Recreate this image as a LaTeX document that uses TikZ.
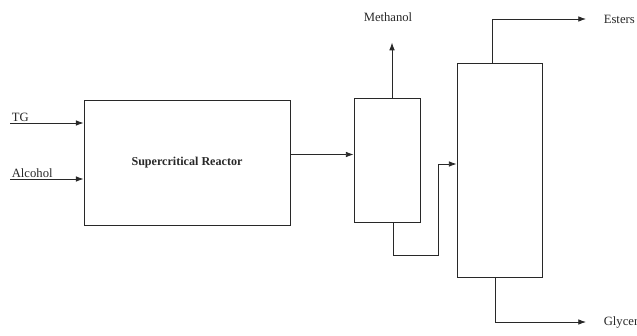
\documentclass[tikz,border=0pt]{standalone}
\usepackage{fontspec}
\setmainfont{Liberation Serif}
\usetikzlibrary{arrows.meta,calc,positioning}
\definecolor{ink}{RGB}{40,40,40}
\tikzset{
  every picture/.style={ink, line width=0.6pt, line join=miter,
    >={Latex[length=5.5pt,width=4pt]}},
  every node/.style={font=\fontsize{9}{10}\selectfont},
  % Apparate
  unit/.style={draw, rectangle, inner sep=0pt},
  % Stroeme
  flow/.style={->},
  lbl/.style={inner sep=1pt},
}

\begin{document}
\begin{tikzpicture}[x=0.025cm, y=-0.025cm]
  \useasboundingbox (0,0) rectangle (637,335);
  % Apparate
  \node[unit, minimum width=5.15cm, minimum height=3.125cm] (reactor) at (187,162.5)
    {\bfseries\fontsize{8.6}{10}\selectfont Supercritical Reactor};
  \node[unit, minimum width=1.65cm, minimum height=3.1cm] (sep) at (387,160) {};
  \node[unit, minimum width=2.125cm, minimum height=5.35cm] (col) at (499.5,170) {};
  % Zulauf
  \node[lbl, anchor=south west] (tg) at (10,123) {TG};
  \node[lbl, anchor=south west] (alc) at (10,179) {Alcohol};
  \draw[flow] (tg.south west) -- (tg.south west -| reactor.west);
  \draw[flow] (alc.south west) -- (alc.south west -| reactor.west);
  % Reaktor -> Flash
  \draw[flow] ($(reactor.east)+(0,-8)$) coordinate (rout) -- (rout -| sep.west);
  % Methanol oben
  \node[lbl] (meoh) at (388,17) {Methanol};
  \draw[flow] ($(sep.north)+(5,0)$) -- ++(0,-55);
  % Flash-Sumpf -> Kolonne
  \coordinate (bend) at (438,164);
  \draw[flow] ($(sep.south)+(6,0)$) -- ++(0,33) -| (bend) -- (bend -| col.west);
  % Produkte
  \node[lbl, anchor=west] (est) at (602,19) {Esters};
  \node[lbl, anchor=west] (gly) at (602,322) {Glycerol};
  \draw[flow] ($(col.north)+(-7,0)$) |- ($(est.west)+(-16,0)$);
  \draw[flow] ($(col.south)+(-4,0)$) |- ($(gly.west)+(-16,0)$);
\end{tikzpicture}
\end{document}
